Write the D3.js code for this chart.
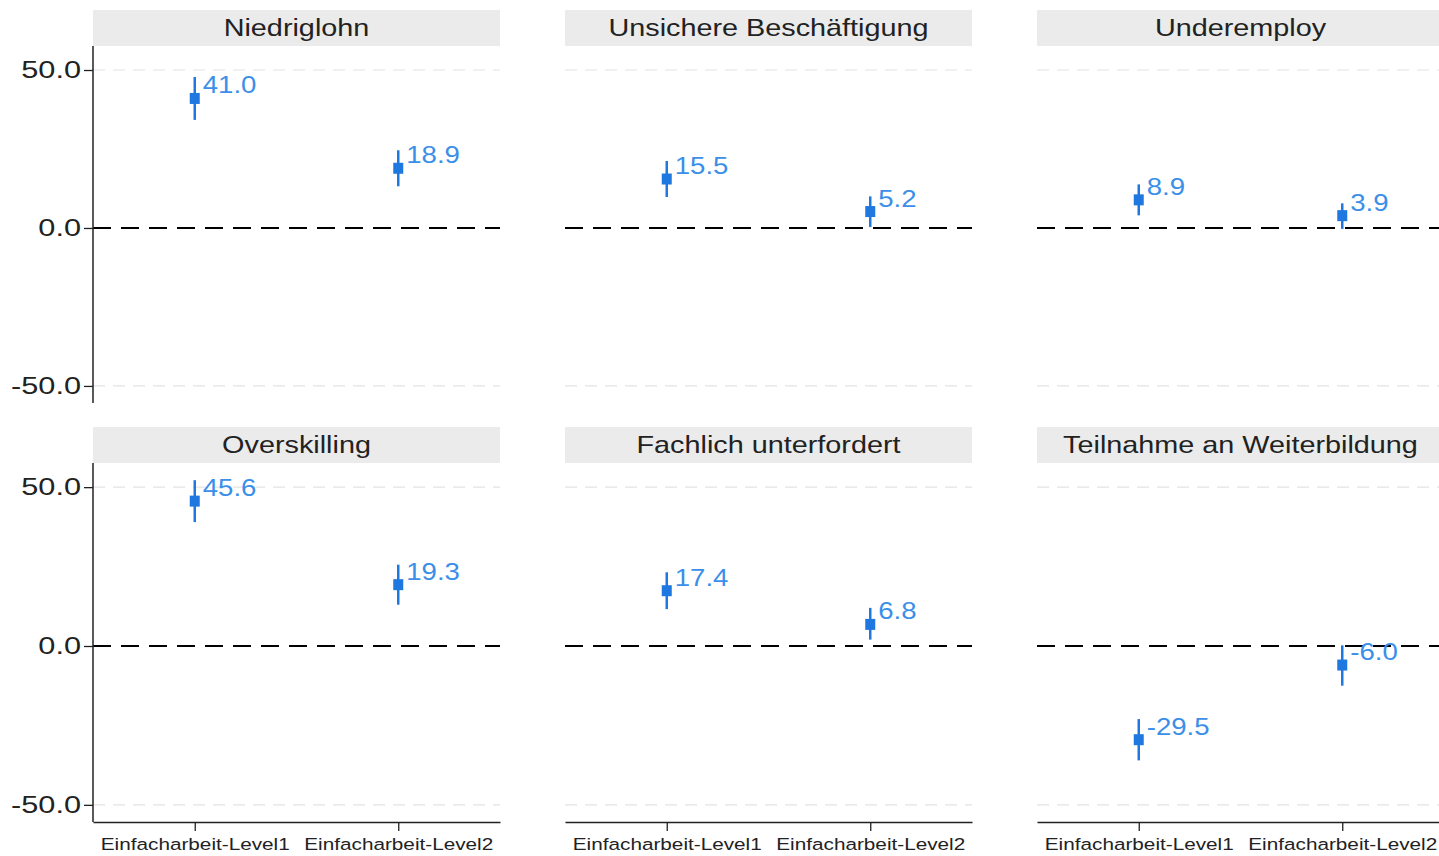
<!DOCTYPE html>
<html>
<head>
<meta charset="utf-8">
<script src="https://cdn.jsdelivr.net/npm/d3@7"></script>
<style>
  body { margin: 0; background: #fff; }
  svg { display: block; font-family: "Liberation Sans", Arial, Helvetica, sans-serif; }
</style>
</head>
<body>
<div id="chart"></div>
<script>
// panels (facets) and categories
const panels = ["Niedriglohn", "Unsichere Beschäftigung", "Underemploy",
                "Overskilling", "Fachlich unterfordert", "Teilnahme an Weiterbildung"];
const levels = ["Einfacharbeit-Level1", "Einfacharbeit-Level2"];

// point estimates
const estL1 = [41.0, 15.5, 8.9, 45.6, 17.4, -29.5];
const estL2 = [18.9, 5.2, 3.9, 19.3, 6.8, -6.0];
// confidence intervals
const lowL1  = [34.2, 9.8, 4.0, 39.0, 11.6, -36.0];
const highL1 = [47.8, 21.2, 13.8, 52.2, 23.2, -23.0];
const lowL2  = [13.2, 0.3, -0.3, 13.0, 2.0, -12.5];
const highL2 = [24.6, 10.0, 7.8, 25.6, 12.0, 0.2];

const yTicks = [-50, 0, 50];

const width = 1439, height = 856;
const colX = [93, 565, 1037];
const panelW = 407;
const stripTop = [10, 427], stripH = 36;
const plotBottom = [403, 822];

const markColor = "#1f78e0";
const labelColor = "#3b8fe8";
const fmt = d => d.toFixed(1); // plain hyphen for negatives

const svg = d3.select("#chart").append("svg")
  .attr("width", width).attr("height", height);

// the original text is a bit wider than the installed fonts, stretch it horizontally
function stretch(sel, sx) {
  sel.each(function() {
    const t = d3.select(this);
    const tx = +t.attr("x") || 0, ty = +t.attr("y") || 0;
    t.attr("x", 0).attr("y", 0)
     .attr("transform", "translate(" + tx + "," + ty + ") scale(" + sx + ",1)");
  });
}

panels.forEach(function(name, i) {
  const row = Math.floor(i / 3), col = i % 3;
  const x0 = colX[col];
  const top = stripTop[row] + stripH;
  const bottom = plotBottom[row];

  const x = d3.scalePoint().domain(levels).range([x0, x0 + panelW]).padding(0.5);
  const y = d3.scaleLinear().domain([-55.4, 57.6]).range([bottom, top]);

  const g = svg.append("g");

  // strip
  g.append("rect")
    .attr("x", x0).attr("y", stripTop[row])
    .attr("width", panelW).attr("height", stripH)
    .attr("fill", "#ebebeb");
  g.append("text")
    .attr("x", x0 + panelW / 2).attr("y", stripTop[row] + stripH / 2 + 8)
    .attr("text-anchor", "middle")
    .attr("font-size", 24).attr("fill", "#222")
    .text(name)
    .call(stretch, 1.2);

  // light grid lines
  g.selectAll(".grid").data(yTicks.filter(d => d !== 0)).join("line")
    .attr("x1", x0).attr("x2", x0 + panelW)
    .attr("y1", d => y(d)).attr("y2", d => y(d))
    .attr("stroke", "#e4e4e4").attr("stroke-width", 1.2)
    .attr("stroke-dasharray", "12,8");

  // zero reference line
  g.append("line")
    .attr("x1", x0).attr("x2", x0 + panelW)
    .attr("y1", y(0)).attr("y2", y(0))
    .attr("stroke", "#000").attr("stroke-width", 2)
    .attr("stroke-dasharray", "18,10");

  // y axis only in first column
  if (col === 0) {
    const ya = g.append("g")
      .attr("transform", "translate(" + x0 + ",0)")
      .call(d3.axisLeft(y).tickValues(yTicks).tickFormat(fmt).tickSize(9).tickPadding(3));
    ya.select(".domain").attr("d", "M0," + top + "V" + bottom).attr("stroke", "#222").attr("stroke-width", 1.5);
    ya.selectAll(".tick line").attr("stroke", "#222").attr("stroke-width", 1.3);
    ya.selectAll(".tick text").attr("font-size", 24).attr("fill", "#222")
      .attr("font-family", "Liberation Sans, Arial, sans-serif")
      .call(stretch, 1.28);
  }

  // x axis only in bottom row
  if (row === 1) {
    const xa = g.append("g")
      .attr("transform", "translate(0," + bottom + ")")
      .call(d3.axisBottom(x).tickSize(9).tickSizeOuter(0).tickPadding(7));
    xa.select(".domain").attr("stroke", "#222").attr("stroke-width", 1.5);
    xa.selectAll(".tick line").attr("stroke", "#222").attr("stroke-width", 1.3);
    xa.selectAll(".tick text").attr("font-size", 17).attr("fill", "#222")
      .attr("font-family", "Liberation Sans, Arial, sans-serif")
      .call(stretch, 1.22);
  }

  const pts = [
    { lv: levels[0], est: estL1[i], lo: lowL1[i], hi: highL1[i] },
    { lv: levels[1], est: estL2[i], lo: lowL2[i], hi: highL2[i] }
  ];

  // error bars
  g.selectAll(".ci").data(pts).join("line")
    .attr("x1", d => x(d.lv)).attr("x2", d => x(d.lv))
    .attr("y1", d => y(d.lo)).attr("y2", d => y(d.hi))
    .attr("stroke", markColor).attr("stroke-width", 2.5);

  // markers
  g.selectAll(".pt").data(pts).join("rect")
    .attr("x", d => x(d.lv) - 5).attr("y", d => y(d.est) - 5.5)
    .attr("width", 10).attr("height", 11)
    .attr("fill", markColor);

  // value labels
  g.selectAll(".lab").data(pts).join("text")
    .attr("x", d => x(d.lv) + 8).attr("y", d => y(d.est) - 5)
    .attr("font-size", 23).attr("fill", labelColor)
    .text(d => fmt(d.est))
    .call(stretch, 1.2);
});
</script>
</body>
</html>
